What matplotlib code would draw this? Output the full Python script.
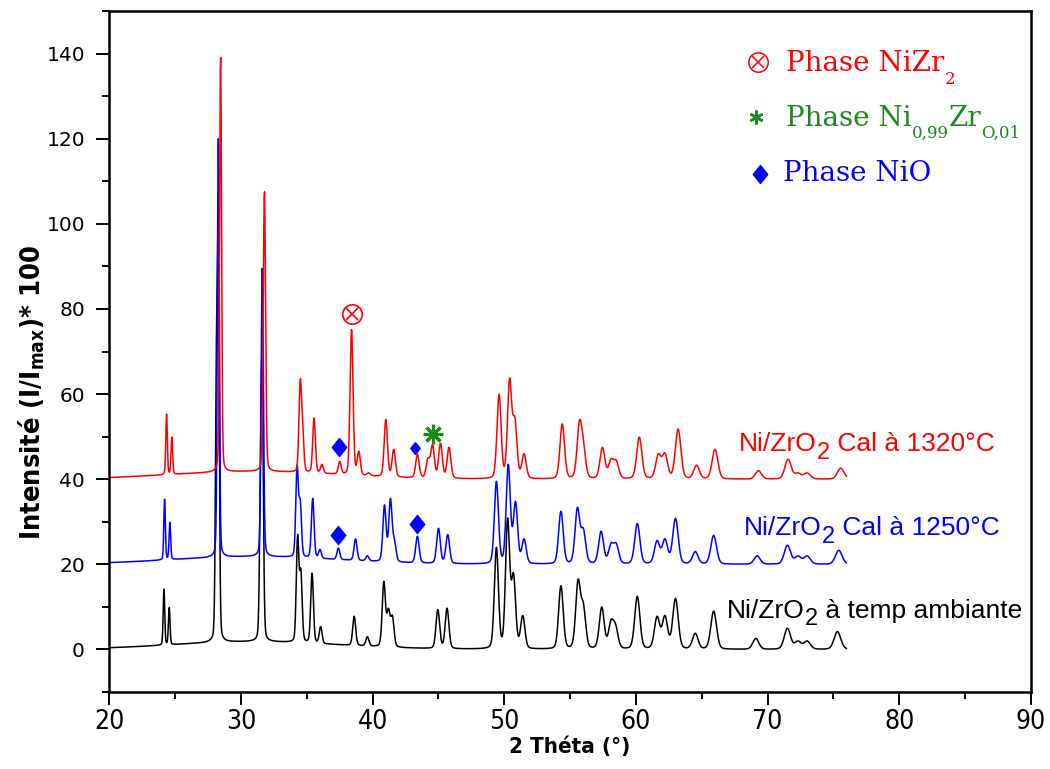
import numpy as np
import matplotlib
matplotlib.use("Agg")
import matplotlib.pyplot as plt
from matplotlib.ticker import MultipleLocator

# peak lists: position (2 theta, deg) and height above the curve's offset
black_pos = [24.15, 24.55, 28.13, 28.28, 31.5, 31.62, 34.3, 34.55, 35.4, 36.05, 38.6, 39.6,
             40.85, 41.2, 41.5, 44.95, 45.65, 49.4, 50.25, 50.7, 51.4, 54.3, 55.6, 56.0,
             57.4, 58.1, 58.45, 60.1, 61.6, 62.2, 63.0, 64.5, 65.9, 69.1, 71.5, 72.3, 73.0,
             75.3]
black_h = [14.4, 10, 72, 100, 54, 66, 27, 19, 18, 5.4, 7.8, 3, 16, 9.7, 8, 9.4, 9.7, 24, 31,
           18, 8, 15, 16.5, 11, 10, 7, 6, 12.5, 7.8, 8, 12, 3.8, 9, 2.6, 5, 2, 2, 4.2]

blue_pos = [24.2, 24.6, 28.28, 31.62, 34.26, 34.5, 35.45, 36.0, 37.4, 38.7, 39.6, 40.9,
            41.35, 41.65, 43.4, 45.0, 45.7, 49.4, 50.3, 50.85, 51.5, 54.3, 55.55, 56.0,
            57.35, 58.1, 58.5, 60.1, 61.6, 62.2, 63.0, 64.5, 65.9, 69.2, 71.5, 72.3, 73.0,
            75.4]
blue_h = [15.3, 10, 100, 70, 23.5, 15.3, 15.5, 3.5, 3.8, 6, 2, 14, 15.5, 6, 6.6, 8.5, 7,
          19.5, 23.5, 14.8, 6, 12.5, 13.4, 8.5, 7.8, 5, 5, 9.6, 5.6, 6, 10.8, 3, 6.8, 2, 4.5,
          2, 2, 3.3]

red_pos = [24.35, 24.75, 28.45, 31.78, 34.5, 34.68, 35.55, 36.15, 37.5, 38.4, 38.95, 39.7,
           41.0, 41.6, 43.4, 44.2, 44.55, 45.15, 45.8, 49.6, 50.4, 50.8, 51.5, 54.4, 55.7,
           56.0, 57.45, 58.1, 58.5, 60.25, 61.7, 62.2, 63.2, 64.6, 66.0, 69.3, 71.55, 72.3,
           73.0, 75.55]
red_h = [15.3, 10, 100, 68, 23.5, 13.6, 14.4, 3.5, 4.2, 35.3, 6.6, 1.5, 14, 7, 5.9, 5, 8.2,
         8.5, 7.5, 20, 23.8, 14.6, 6, 13, 13.8, 9.5, 7.5, 4.8, 4.5, 9.9, 6, 6.2, 11.8, 3.3,
         7, 2, 4.7, 1.5, 1.5, 2.6]

offsets = [0, 20, 40]
colors = ["black", "#0000ff", "#ff0000"]
green = "#1a8a1a"
x_ticks = [20, 30, 40, 50, 60, 70, 80, 90]


def width(p):
    return 0.10 + 0.009 * (p - 20)


def shapes(x, pos):
    # pseudo-voigt peak shapes of unit height, one column per peak
    cols = []
    for p in pos:
        w = width(p)
        g = np.exp(-4 * np.log(2) * ((x - p) / w) ** 2)
        l = 1 / (1 + 4 * ((x - p) / w) ** 2)
        cols.append(0.8 * g + 0.2 * l)
    return np.array(cols).T


def hump(x):
    return 1.8 * np.exp(-((x - 31) / 9) ** 2)


def profile(x, pos, h):
    # pick amplitudes so the summed curve passes through the read peak heights
    pos = np.asarray(pos)
    target = np.asarray(h) - hump(pos)
    keep = np.ones(len(pos), bool)
    amp = np.zeros(len(pos))
    for _ in range(10):
        m = shapes(pos[keep], pos[keep])
        a = np.linalg.lstsq(m, target[keep], rcond=None)[0]
        if (a >= 0).all():
            break
        idx = np.where(keep)[0]
        keep[idx[a < 0]] = False
    amp[keep] = np.clip(a, 0, None)
    return shapes(x, pos) @ amp + hump(x)


def rainbow(ax, x, y, parts, color, family, va="baseline"):
    # text made of pieces, each piece shifted in points from the previous one
    s, fs = parts[0]
    t = ax.text(x, y, s, color=color, fontsize=fs, family=family, va=va)
    for s, fs, dy in parts[1:]:
        t = ax.annotate(s, xy=(1, 0), xycoords=t, xytext=(0, dy), textcoords="offset points",
                        va="bottom", color=color, fontsize=fs, family=family)


fig = plt.figure(figsize=(10.5, 7.69), dpi=100)
ax = fig.add_axes([0.1041, 0.1001, 0.8778, 0.8856])

x = np.arange(20, 76.0, 0.03)
for pos, h, off, c in zip([black_pos, blue_pos, red_pos], [black_h, blue_h, red_h], offsets, colors):
    ax.plot(x, profile(x, pos, h) + off, color=c, lw=1.1)

# curve labels
sans = "Liberation Sans"
rainbow(ax, 66.9, 7.5, [("Ni/ZrO", 19), ("2", 17, -5.5), (" à temp ambiante", 19, 5.5)], "black", sans)
rainbow(ax, 68.2, 26.8, [("Ni/ZrO", 19), ("2", 17, -5.5), (" Cal à 1250°C", 19, 5.5)], "#0000ff", sans)
rainbow(ax, 67.8, 46.6, [("Ni/ZrO", 19), ("2", 17, -5.5), (" Cal à 1320°C", 19, 5.5)], "#ff0000", sans)

# phase markers on the curves
diamond = [(0, 1), (0.8, 0), (0, -1), (-0.8, 0), (0, 1)]
ax.plot([38.4], [78.8], "o", mfc="none", mec="#ff0000", ms=14, mew=1.2)
ax.plot([38.4], [78.8], "x", color="#ff0000", ms=8, mew=1.2)
ax.plot([37.45, 37.4, 43.4], [47.5, 27, 29.4], marker=diamond, color="#0000ff", ms=13, ls="none")
ax.plot([43.2], [47.3], marker=diamond, color="#0000ff", ms=8.5, ls="none")
ax.plot([44.6], [50.6], marker=(8, 2, 0), color=green, ms=14, mew=2.2, ls="none")

# phase legend
serif = "DejaVu Serif"
ax.plot([69.3], [138.1], "o", mfc="none", mec="#ff0000", ms=14, mew=1.1)
ax.plot([69.3], [138.1], "x", color="#ff0000", ms=8, mew=1.1)
ax.plot([69.1], [125.0], marker=(6, 2, 0), color=green, ms=10, mew=1.8, ls="none")
ax.plot([69.4], [111.8], marker=diamond, color="#0000ff", ms=13, ls="none")
rainbow(ax, 71.4, 135.8, [("Phase NiZr", 20), ("2", 12, -7.5)], "#ff0000", serif)
rainbow(ax, 71.4, 123.0, [("Phase Ni", 20), ("0,99", 12, -7), ("Zr", 20, 7), ("O,01", 12, -7)],
        green, serif)
ax.text(71.2, 111.8, "Phase NiO", color="#0000ff", fontsize=20, family=serif, va="center")

ax.set_xlim(20, 90)
ax.set_ylim(-10, 150)
ax.set_xticks(x_ticks, [str(v) for v in x_ticks], fontsize=19, fontstretch="condensed")
ax.xaxis.set_minor_locator(MultipleLocator(5))
ax.yaxis.set_major_locator(MultipleLocator(20))
ax.yaxis.set_minor_locator(MultipleLocator(10))
ax.tick_params(which="major", direction="out", length=9.5, width=1.4)
ax.tick_params(which="minor", direction="out", length=5, width=1.4)
ax.tick_params(axis="y", labelsize=14.5, pad=8)
ax.tick_params(axis="x", pad=3)
for s in ax.spines.values():
    s.set_linewidth(1.8)

ax.set_xlabel("2 Théta (°)", fontsize=16, fontweight="bold", labelpad=1, fontstretch="condensed")
fig.text(0.03, 1 - 392 / 769, "Intensité (I/I$\\mathregular{_{max}}$)* 100", rotation=90,
         fontsize=19.5, fontweight="bold", fontstretch="condensed", ha="center", va="center")

fig.savefig("out.png", dpi=100)
